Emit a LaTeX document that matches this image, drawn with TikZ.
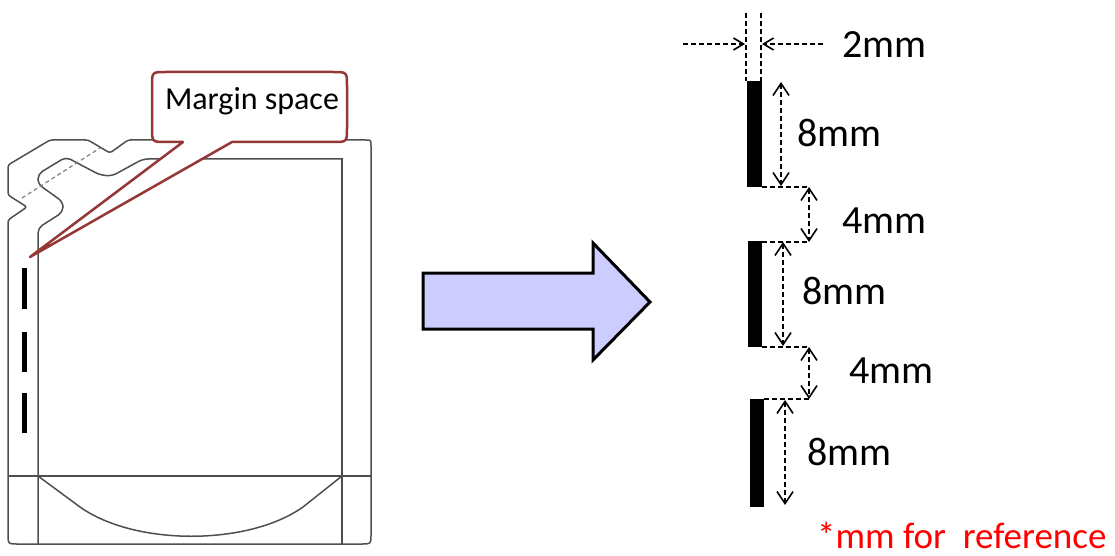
\documentclass[tikz,border=0pt]{standalone}
\usepackage{fontspec}
\setmainfont{Carlito}
\usetikzlibrary{arrows.meta}
\definecolor{baggray}{HTML}{4E4E4E}
\definecolor{dashgray}{HTML}{808080}
\definecolor{callred}{HTML}{953735}
\definecolor{arrowfill}{HTML}{CCCCFF}
\begin{document}
\begin{tikzpicture}[x=1pt,y=-1pt,
  bagline/.style={draw=baggray,line width=1.5pt},
  foldline/.style={draw=dashgray,line width=1.2pt,dash pattern=on 4pt off 3pt},
  callout/.style={draw=callred,fill=white,line width=2.5pt,line join=round},
  bigarrow/.style={draw=black,fill=arrowfill,line width=3pt,line join=miter},
  bar/.style={fill=black,draw=none},
  dimline/.style={draw=black,line width=1.6pt,dash pattern=on 5pt off 3pt},
  dimv/.style={dimline,arrows={Straight Barb[length=12pt,width=16pt]-Straight Barb[length=12pt,width=16pt]}},
  dimh/.style={dimline,arrows={-Straight Barb[length=10pt,width=12pt]}},
  lbl/.style={anchor=base west,inner sep=0pt,font=\fontsize{40}{48}\selectfont},
]
\useasboundingbox (0,0) rectangle (1115,556);

% ---------- bag ----------
\draw[bagline,rounded corners=2.5pt] (8,220) -- (27,207) -- (8,195) -- (8,165) -- (50,140) -- (88,140) -- (110,153) -- (128,140) -- (363,140)
  .. controls (371,140) .. (371,148) -- (371,532) .. controls (371,544) .. (359,544)
  -- (20,544) .. controls (8,544) .. (8,532) -- cycle;
\draw[bagline,rounded corners=5pt] (38,544) -- (38,228) -- (63,212) -- (63,202) -- (38,184) -- (38,174) -- (66,157) -- (100,175) -- (112,176) -- (143,159) -- (343,159);
\draw[bagline,line cap=rect] (342,159) -- (342,544);
\draw[foldline] (22,198) -- (100,148);
\coordinate (sealL) at (8,476);
\coordinate (sealR) at (371,476);
\draw[bagline] (sealL) -- (sealR);
\draw[bagline] (38,476) -- (80,507) .. controls (135,546) and (248,546) .. (303,507) -- (342,476);
% perforation dashes
\fill[bar] (22,268) rectangle (27,309);
\fill[bar] (22,332) rectangle (27,372);
\fill[bar] (22,393) rectangle (27,433);

% ---------- callout ----------
\coordinate (tip) at (30,257);
\draw[callout] (166,72) -- (333,72) .. controls (347,72) .. (347,86) -- (347,128) .. controls (347,142) .. (333,142)
  -- (232,142) -- (tip) -- (183,142) -- (166,142) .. controls (152,142) .. (152,128) -- (152,86) .. controls (152,72) .. (166,72) -- cycle;
\node[anchor=base,inner sep=0pt,font=\fontsize{32}{38}\selectfont] (margin) at (252,110) {Margin space};

% ---------- big arrow ----------
\draw[bigarrow] (423,273) -- (593,273) -- (593,243) -- (650,302) -- (593,360) -- (593,329) -- (423,329) -- cycle;

% ---------- dimension drawing ----------
\fill[bar] (747,81) rectangle (762,187);
\fill[bar] (748,241) rectangle (762,347);
\fill[bar] (750,399) rectangle (764,507);

\draw[dimline] (746,13) -- (746,81);
\draw[dimline] (761,13) -- (761,81);
\coordinate (hl0) at (683,44); \coordinate (hl1) at (745,44);
\coordinate (hr0) at (823,44); \coordinate (hr1) at (762,44);
\draw[dimh] (hl0) -- (hl1);
\draw[dimh] (hr0) -- (hr1);

\coordinate (a1) at (762,187); \coordinate (b1) at (809,187);
\coordinate (a2) at (762,242); \coordinate (b2) at (809,242);
\coordinate (a3) at (762,347); \coordinate (b3) at (809,347);
\coordinate (a4) at (764,399); \coordinate (b4) at (809,399);
\draw[dimline] (a1) -- (b1);
\draw[dimline] (a2) -- (b2);
\draw[dimline] (a3) -- (b3);
\draw[dimline] (a4) -- (b4);

\draw[dimv] (781,82) -- (781,186);
\draw[dimv] (783,242) -- (783,346);
\draw[dimv] (785,400) -- (785,505);
\draw[dimv] (b1) -- (b2);
\draw[dimv] (b3) -- (b4);

\node[lbl] (w2) at (842,58) {2mm};
\node[lbl] (h8a) at (797,147) {8mm};
\node[lbl] (g4a) at (842,233) {4mm};
\node[lbl] (h8b) at (802,304) {8mm};
\node[lbl] (g4b) at (849,383) {4mm};
\node[lbl] (h8c) at (807,465) {8mm};
\node[anchor=base west,inner sep=0pt,text=red,font=\fontsize{37}{44}\selectfont] (note) at (817,548) {*mm for\ \ reference};
\end{tikzpicture}
\end{document}
